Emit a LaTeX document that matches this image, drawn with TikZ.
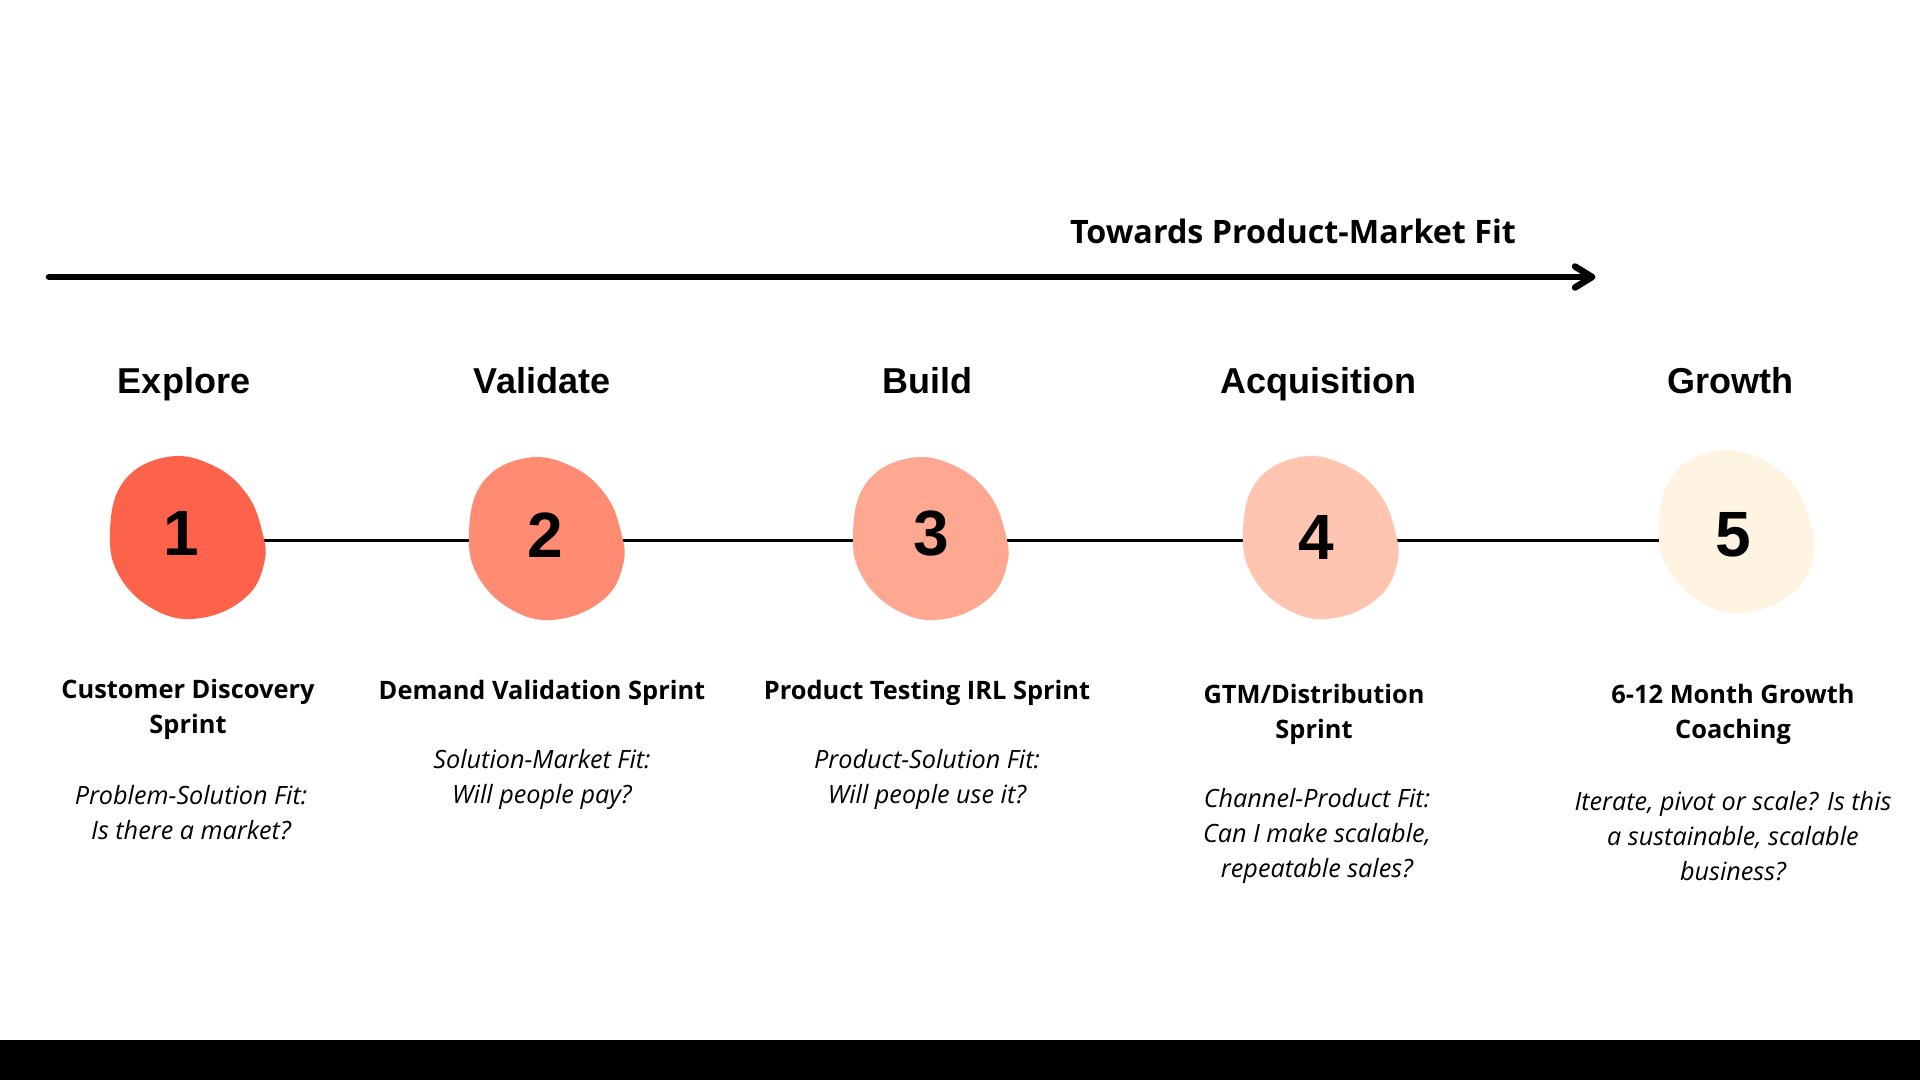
\documentclass[tikz,border=0pt]{standalone}
\usepackage{fontspec}
\setmainfont{Open Sans}
\newfontfamily\headfont{Liberation Sans}
\definecolor{blobA}{HTML}{FD624B}
\definecolor{blobB}{HTML}{FF8B73}
\definecolor{blobC}{HTML}{FFA891}
\definecolor{blobD}{HTML}{FFC5B0}
\definecolor{blobE}{HTML}{FFF3E2}
\newcommand\drawblob[3]{%
  \fill[#3, shift={(#1,#2)}] plot[smooth cycle, tension=0.7] coordinates {
    (-20,-80) (25,-72) (59,-44) (75,-6) (77,27) (58,61) (14,81) (-30,74)
    (-67,40) (-77,-6) (-63,-56)};}
\begin{document}
\begin{tikzpicture}[x=1pt,y=-1pt,
  heading/.style={font=\headfont\bfseries\fontsize{36}{40}\selectfont, inner sep=0, anchor=base},
  numtext/.style={font=\headfont\bfseries\fontsize{64}{70}\selectfont, inner sep=0, anchor=base},
  sprint/.style={font=\bfseries\fontsize{25.4}{35}\selectfont, align=center, inner sep=0},
  question/.style={font=\itshape\fontsize{25.2}{35}\selectfont, align=center, inner sep=0},
  link/.style={line width=3.5pt},
  bigarrow/.style={line width=6.5pt, line cap=round, line join=round}]
\useasboundingbox (0,0) rectangle (1920,1080);
\fill[white] (0,0) rectangle (1920,1080);
\fill[black] (0,1040) rectangle (1920,1080);

% top arrow
\coordinate (as) at (49,277);
\coordinate (ae) at (1592,277);
\coordinate (aup) at (1575,266.5);
\coordinate (adn) at (1575,287.5);
\draw[bigarrow] (as) -- (ae);
\draw[bigarrow] (aup) -- (ae) -- (adn);
\node[font=\bfseries\fontsize{32.3}{38}\selectfont, inner sep=0] (towards) at (1293,231.5) {Towards Product-Market Fit};

% headings
\node[heading] (h1) at (184,393) {Explore};
\node[heading] (h2) at (542,393) {Validate};
\node[heading] (h3) at (927,393) {Build};
\node[heading] (h4) at (1318,393.5) {Acquisition};
\node[heading] (h5) at (1730,393) {Growth};

% connectors
\coordinate (c1) at (187,540.5);
\coordinate (c2) at (546,540.5);
\coordinate (c3) at (930,540.5);
\coordinate (c4) at (1320,540.5);
\coordinate (c5) at (1736,540.5);
\draw[link] (c1) -- (c2);
\draw[link] (c2) -- (c3);
\draw[link] (c3) -- (c4);
\draw[link] (c4) -- (c5);

% blobs
\drawblob{187}{537}{blobA}
\drawblob{546}{538}{blobB}
\drawblob{930}{538}{blobC}
\drawblob{1320}{537}{blobD}
\drawblob{1736}{531}{blobE}

\node[numtext] (n1) at (181,555) {1};
\node[numtext] (n2) at (545,557) {2};
\node[numtext] (n3) at (931,555) {3};
\node[numtext] (n4) at (1316,559) {4};
\node[numtext] (n5) at (1733,556) {5};

% sprint titles
\node[sprint] (s1) at (188,709) {Customer Discovery\\Sprint};
\node[sprint] (s2) at (542,693) {Demand Validation Sprint};
\node[sprint] (s3) at (927,693) {Product Testing IRL Sprint};
\node[sprint] (s4) at (1314,714) {GTM/Distribution\\Sprint};
\node[sprint] (s5) at (1733,714) {6-12 Month Growth\\Coaching};

% questions
\node[question] (q1) at (191,813) {Problem-Solution Fit:\\Is there a market?};
\node[question] (q2) at (542,779) {Solution-Market Fit:\\Will people pay?};
\node[question] (q3) at (927,779) {Product-Solution Fit:\\Will people use it?};
\node[question] (q4) at (1317,836) {Channel-Product Fit:\\Can I make scalable,\\repeatable sales?};
\node[question] (q5) at (1733,836) {Iterate, pivot or scale? Is this\\a sustainable, scalable\\business?};
\end{tikzpicture}
\end{document}
